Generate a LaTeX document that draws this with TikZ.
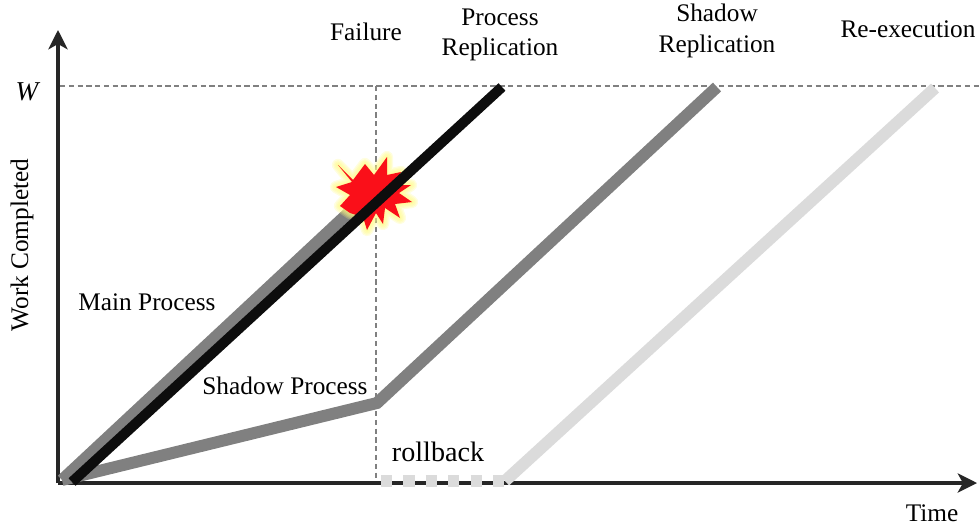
\documentclass[tikz,border=0pt]{standalone}
\usepackage{fontspec}
\setmainfont{Liberation Serif}
\usetikzlibrary{arrows.meta}
\tikzset{
  axisline/.style={line width=1.8pt,draw=black!85,-{Stealth[length=11pt,width=11pt,inset=3pt]}},
  guideline/.style={line width=0.6pt,draw=black!50,dash pattern=on 3pt off 2pt},
  runline/.style={line width=6.8pt,line cap=butt,line join=miter},
  mainrun/.style={runline,draw=black!50},
  shadowrun/.style={runline,draw=black!50},
  replicarun/.style={runline,draw=black!95,line width=5.8pt},
  rerun/.style={runline,draw=black!14},
  lbl/.style={font=\fontsize{14.4pt}{17.2pt}\selectfont,align=center,inner sep=0pt},
}
\definecolor{burst}{RGB}{250,15,25}
\definecolor{glow}{RGB}{255,250,130}
\newcommand{\burstpath}{(338,165) -- (353,180) -- (365,164) -- (374,175) -- (387,157) -- (387,175) -- (401,172) -- (395,185) -- (411,185) -- (399,193) -- (412,202) -- (395,204) -- (400,218) -- (385,208) -- (383,224) -- (376,213) -- (367,230) -- (363,217) -- (350,213) -- (340,206) -- (350,195) -- (336,187) -- (352,182) -- cycle}
\begin{document}
\begin{tikzpicture}[x=0.02cm,y=-0.02cm]
\useasboundingbox (0,0) rectangle (979,527);
% axes
\coordinate (orig) at (58,483);
\coordinate (xend) at (977,483);
\coordinate (yend) at (58,30);
\coordinate (wleft) at (60,86);
\coordinate (wright) at (979,86);
\coordinate (failtop) at (376,86);
\coordinate (failbot) at (376,481);
\draw[guideline] (wleft)--(wright);
\draw[guideline] (failtop)--(failbot);
\draw[axisline] (orig)--(xend);
\draw[axisline] (orig)--(yend);
% runs
\coordinate (mainstart) at (62,480);
\coordinate (mainfail) at (357,205);
\coordinate (shadowknee) at (377,403);
\coordinate (shadowend) at (717,87);
\coordinate (replstart) at (72,482);
\coordinate (replend) at (502,87);
\coordinate (rollstart) at (381,481);
\coordinate (rollend) at (505,481);
\coordinate (reend) at (935,88);
\draw[mainrun] (mainstart)--(mainfail);
\draw[shadowrun] (mainstart)--(shadowknee)--(shadowend);
\draw[rerun,line width=6.3pt,dash pattern=on 6.4pt off 6.35pt] (rollstart)--(rollend);
\draw[rerun] (rollend)--(reend);
% burst
\foreach \wd in {7,5.5,4,2.5,1}
  \draw[line width=\wd pt,draw=glow,opacity=0.25,line join=round] \burstpath;
\fill[burst] \burstpath;
\draw[replicarun] (replstart)--(replend);
% labels
\node[lbl,font=\fontsize{15.5pt}{17pt}\selectfont\itshape] (wlabel) at (27,92) {W};
\node[lbl] (failure) at (366,32) {Failure};
\node[lbl] (replicationa) at (500,35) {Process\\Replication};
\node[lbl] (replicationb) at (717,31) {Shadow\\Replication};
\node[lbl] (reexec) at (908,29) {Re-execution};
\node[lbl] (mainlabel) at (147,302) {Main Process};
\node[lbl] (shadowlabel) at (285,386) {Shadow Process};
\node[lbl,font=\fontsize{16pt}{18pt}\selectfont] (rollback) at (438,452) {rollback};
\node[lbl] (timelabel) at (932,513) {Time};
\node[lbl,rotate=90] (worklabel) at (22,245) {Work Completed};
\end{tikzpicture}
\end{document}
